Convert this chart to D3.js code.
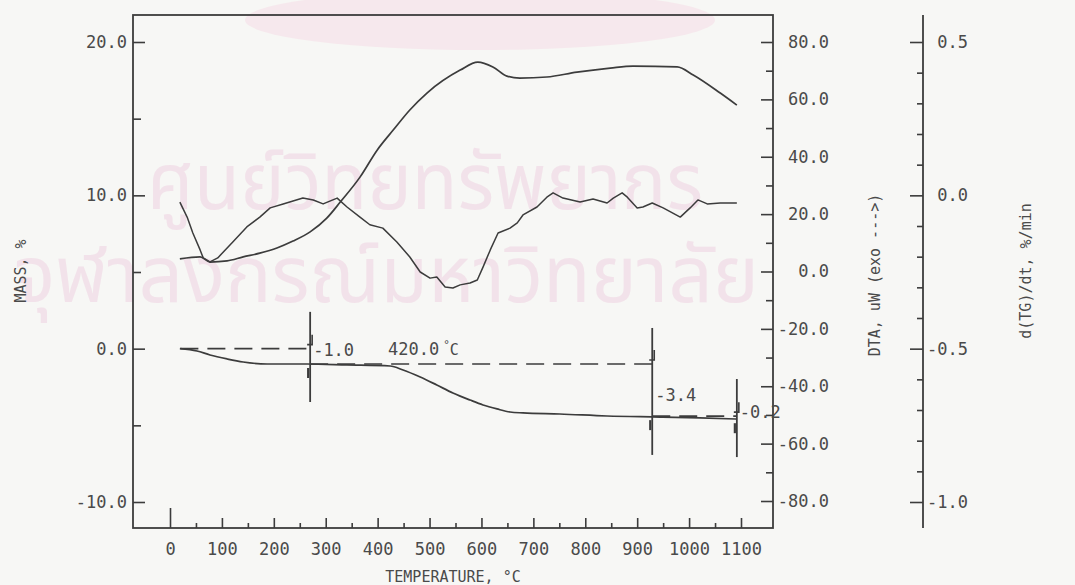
<!DOCTYPE html>
<html>
<head>
<meta charset="utf-8">
<script src="https://cdn.jsdelivr.net/npm/d3@7"></script>
<style>
  body { margin: 0; background: #f7f7f5; }
  svg { display: block; }
  text { font-family: "DejaVu Sans Mono", "Liberation Mono", monospace; fill: #4a4a4a; }
</style>
</head>
<body>
<svg id="chart" width="1075" height="585"></svg>
<script>
// TG / DTA / DTG printout

// TG (mass %)
const tgTemp = [19, 52, 77, 110, 141, 187, 264, 341, 424, 449, 482, 514, 545, 578, 603, 630, 655, 680, 751, 842, 944, 1021, 1092];
const tgMass = [0, -0.15, -0.41, -0.67, -0.87, -1.0, -1.0, -1.06, -1.13, -1.39, -1.85, -2.37, -2.89, -3.35, -3.67, -3.93, -4.13, -4.19, -4.26, -4.39, -4.46, -4.52, -4.59];

// DTA (uW)
const dtaTemp = [19, 58, 77, 110, 141, 173, 206, 237, 270, 302, 328, 366, 399, 430, 462, 495, 559, 593, 622, 649, 674, 726, 784, 848, 892, 977, 1008, 1060, 1092];
const dtaVal = [4.4, 5.1, 3.3, 3.7, 5.1, 6.4, 8.2, 10.6, 13.8, 18.6, 24.2, 32.9, 42.3, 49.3, 56.3, 62.2, 70.2, 73.0, 71.3, 68.1, 67.4, 67.8, 69.5, 70.9, 71.6, 71.3, 68.5, 62.2, 58.0];

// DTG (%/min)
const dtgTemp = [19, 33, 44, 58, 64, 77, 92, 121, 148, 173, 193, 218, 256, 276, 295, 322, 341, 366, 385, 410,
  437, 462, 482, 501, 514, 530, 545, 559, 578, 592, 603, 617, 632, 655, 669, 680, 707, 726, 738, 757,
  790, 815, 842, 854, 871, 881, 900, 911, 929, 950, 983, 1002, 1017, 1035, 1060, 1092];
const dtgVal = [-0.022, -0.071, -0.123, -0.178, -0.204, -0.217, -0.204, -0.152, -0.103, -0.071, -0.041, -0.028, -0.009, -0.015, -0.028, -0.009, -0.038, -0.071, -0.096, -0.107,
  -0.152, -0.201, -0.250, -0.270, -0.266, -0.299, -0.302, -0.292, -0.286, -0.276, -0.234, -0.178, -0.123, -0.107, -0.090, -0.064, -0.038, -0.006, 0.008, -0.009,
  -0.022, -0.012, -0.025, -0.009, 0.008, -0.006, -0.041, -0.038, -0.025, -0.041, -0.071, -0.041, -0.015, -0.028, -0.025, -0.025];

// step analysis
const dashFrom = [20, 270, 929];
const dashTo = [270, 929, 1092];
const dashLevel = [0, -1.0, -4.4];
const stepTemp = [270, 929, 1092];
const stepTop = [2.4, 1.35, -1.98];
const stepBottom = [-3.48, -6.93, -7.07];
const stepLabels = ['-1.0', '-3.4', '-0.2'];
const stepLabelMass = [-0.1, -3.0, -4.1];
const peakTemp = 420;
const peakLabel = '420.0';

// ticks
const tempTicks = [0, 100, 200, 300, 400, 500, 600, 700, 800, 900, 1000, 1100];
const tempMinor = [50, 150, 250, 350, 450, 550, 650, 750, 850, 950, 1050];
const massTicks = [-10, 0, 10, 20];
const massMinor = [-5, 5, 15];
const dtaTicks = [-80, -60, -40, -20, 0, 20, 40, 60, 80];
const dtaMinor = [-70, -50, -30, -10, 10, 30, 50, 70];
const dtgTicks = [-1.0, -0.5, 0, 0.5];
const dtgMinor = [-0.9, -0.8, -0.7, -0.6, -0.4, -0.3, -0.2, -0.1, 0.1, 0.2, 0.3, 0.4];

// watermark lines on the scanned page
const wmLines = ['ศูนย์วิทยทรัพยากร', 'จุฬาลงกรณ์มหาวิทยาลัย'];

const svg = d3.select('#chart');
const box = { left: 133, right: 773, top: 15, bottom: 528 };
const dtgAxisX = 923;
const ink = '#3c3c3c';

const x = d3.scaleLinear().domain([0, 1100]).range([170, 741]);
const yMass = d3.scaleLinear().domain([-10, 20]).range([502, 42]);
const yDta = d3.scaleLinear().domain([-80, 80]).range([501, 42]);
const yDtg = d3.scaleLinear().domain([-1, 0.5]).range([502, 42]);
const fmt = (v) => d3.format('.1f')(v).replace('\u2212', '-');

// faint watermark from the scan
const wm = svg.append('g').attr('opacity', 0.5);
wm.append('ellipse').attr('cx', 480).attr('cy', 20).attr('rx', 235).attr('ry', 30)
  .attr('fill', '#f6dbe6');
wm.append('text').attr('x', 147).attr('y', 209)
  .attr('textLength', 556).attr('lengthAdjust', 'spacingAndGlyphs')
  .style('font-family', '"Noto Sans Thai", "Noto Sans", sans-serif')
  .style('font-size', '78px').style('fill', '#efcfe0').text(wmLines[0]);
wm.append('text').attr('x', 14).attr('y', 302)
  .attr('textLength', 745).attr('lengthAdjust', 'spacingAndGlyphs')
  .style('font-family', '"Noto Sans Thai", "Noto Sans", sans-serif')
  .style('font-size', '78px').style('fill', '#efcfe0').text(wmLines[1]);

// frame
svg.append('rect')
  .attr('x', box.left).attr('y', box.top)
  .attr('width', box.right - box.left).attr('height', box.bottom - box.top)
  .attr('fill', 'none').attr('stroke', ink).attr('stroke-width', 1.8);

svg.append('line')
  .attr('x1', dtgAxisX).attr('x2', dtgAxisX).attr('y1', box.top).attr('y2', box.bottom)
  .attr('stroke', ink).attr('stroke-width', 1.8);

function styleAxis(g) {
  g.select('.domain').remove();
  g.selectAll('line').attr('stroke', ink).attr('stroke-width', 1.6);
  g.selectAll('text').style('font-size', '17px').style('fill', '#4a4a4a');
}

// mass axis (left)
svg.append('g').attr('transform', `translate(${box.left},0)`)
  .call(d3.axisLeft(yMass).tickValues(massTicks).tickSize(-12).tickSizeOuter(0).tickPadding(6).tickFormat(fmt))
  .call(styleAxis);
svg.append('g').attr('transform', `translate(${box.left},0)`)
  .call(d3.axisLeft(yMass).tickValues(massMinor).tickSize(-8).tickSizeOuter(0).tickFormat(''))
  .call(styleAxis);

// temperature axis (bottom)
const xAxis = svg.append('g').attr('transform', `translate(0,${box.bottom})`)
  .call(d3.axisBottom(x).tickValues(tempTicks).tickSize(-10).tickSizeOuter(0).tickPadding(15).tickFormat(d3.format('d')))
  .call(styleAxis);
xAxis.selectAll('.tick').filter((d) => d === 0).select('line').attr('y2', -20);
svg.append('g').attr('transform', `translate(0,${box.bottom})`)
  .call(d3.axisBottom(x).tickValues(tempMinor).tickSize(-5).tickSizeOuter(0).tickFormat(''))
  .call(styleAxis);

// DTA axis (box right edge)
svg.append('g').attr('transform', `translate(${box.right},0)`)
  .call(d3.axisRight(yDta).tickValues(dtaTicks).tickSize(-12).tickSizeOuter(0).tickFormat(fmt))
  .call(styleAxis)
  .selectAll('text').attr('x', 56).attr('text-anchor', 'end');
svg.append('g').attr('transform', `translate(${box.right},0)`)
  .call(d3.axisRight(yDta).tickValues(dtaMinor).tickSize(-7).tickSizeOuter(0).tickFormat(''))
  .call(styleAxis);

// DTG axis (far right)
svg.append('g').attr('transform', `translate(${dtgAxisX},0)`)
  .call(d3.axisLeft(yDtg).tickValues(dtgTicks).tickSize(13).tickSizeOuter(0).tickFormat(fmt))
  .call(styleAxis)
  .selectAll('text').attr('x', 45).attr('text-anchor', 'end');
svg.append('g').attr('transform', `translate(${dtgAxisX},0)`)
  .call(d3.axisLeft(yDtg).tickValues(dtgMinor).tickSize(6).tickSizeOuter(0).tickFormat(''))
  .call(styleAxis);

// axis titles
svg.append('text').attr('transform', 'translate(26,271) rotate(-90)')
  .attr('text-anchor', 'middle').style('font-size', '15px').text('MASS, %');
svg.append('text').attr('x', 453).attr('y', 582)
  .attr('text-anchor', 'middle').style('font-size', '15px').text('TEMPERATURE, \u00B0C');
svg.append('text').attr('transform', 'translate(880,275) rotate(-90)')
  .attr('text-anchor', 'middle').style('font-size', '15px').text('DTA, uW (exo --->)');
svg.append('text').attr('transform', 'translate(1031,271) rotate(-90)')
  .attr('text-anchor', 'middle').style('font-size', '15px').text('d(TG)/dt, %/min');

// curves
const curves = svg.append('g').attr('fill', 'none').attr('stroke', ink)
  .attr('stroke-width', 1.7).attr('stroke-linejoin', 'round');

curves.append('path')
  .attr('d', d3.line().curve(d3.curveMonotoneX)
    .x((d, i) => x(tgTemp[i])).y((d, i) => yMass(tgMass[i]))(tgTemp));

curves.append('path')
  .attr('d', d3.line().curve(d3.curveMonotoneX)
    .x((d, i) => x(dtaTemp[i])).y((d, i) => yDta(dtaVal[i]))(dtaTemp));

curves.append('path')
  .attr('stroke-width', 1.5)
  .attr('d', d3.line()
    .x((d, i) => x(dtgTemp[i])).y((d, i) => yDtg(dtgVal[i]))(dtgTemp));

// step analysis: dashed levels, markers, labels
const steps = svg.append('g').attr('stroke', ink);
dashFrom.forEach((t0, i) => {
  steps.append('line')
    .attr('x1', x(t0)).attr('x2', x(dashTo[i]))
    .attr('y1', yMass(dashLevel[i])).attr('y2', yMass(dashLevel[i]))
    .attr('stroke-width', 1.6).attr('stroke-dasharray', '18,9');
});
stepTemp.forEach((t, i) => {
  const sx = x(t);
  steps.append('line')
    .attr('x1', sx).attr('x2', sx)
    .attr('y1', yMass(stepTop[i])).attr('y2', yMass(stepBottom[i]))
    .attr('stroke-width', 1.8);
  // little arrow heads above and below the levels
  const up = yMass(dashLevel[i]);
  steps.append('path')
    .attr('d', `M${sx + 2},${up - 14}v10h-5`).attr('fill', 'none').attr('stroke-width', 1.6);
  const lo = yMass(i < 2 ? dashLevel[i + 1] : -4.6);
  steps.append('path')
    .attr('d', `M${sx - 2},${lo + 4}v10`).attr('fill', 'none').attr('stroke-width', 2.2);
  svg.append('text')
    .attr('x', sx + 3).attr('y', yMass(stepLabelMass[i]) + 6)
    .style('font-size', '17px').text(stepLabels[i]);
});

const pk = svg.append('text')
  .attr('x', x(peakTemp)).attr('y', yMass(0) + 6)
  .style('font-size', '17px');
pk.append('tspan').text(peakLabel);
pk.append('tspan').attr('dx', 4).attr('dy', -7).style('font-size', '11px').text('\u00B0');
pk.append('tspan').attr('dy', 7).style('font-size', '15px').text('C');
</script>
</body>
</html>
